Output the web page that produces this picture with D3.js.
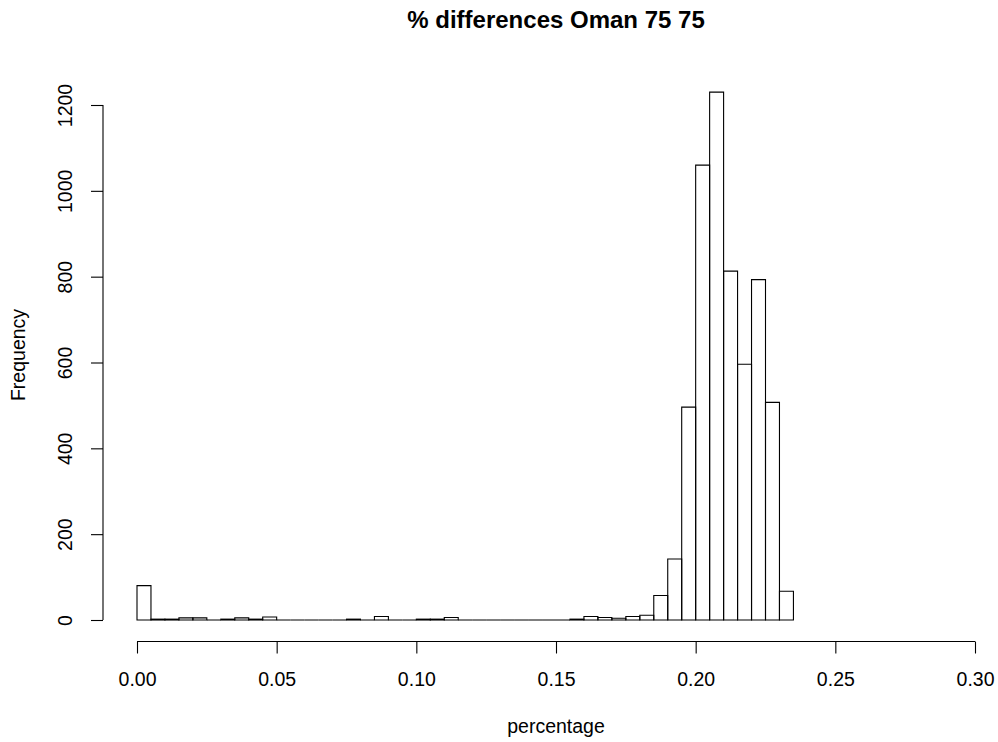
<!DOCTYPE html>
<html><head><meta charset="utf-8">
<script src="https://cdn.jsdelivr.net/npm/d3@7"></script>
<style>body{margin:0;background:#fff}svg{display:block}text{font-family:"Liberation Sans",Arial,Helvetica,sans-serif;fill:#000}</style>
</head><body>
<script>
const binWidth = 0.005;
const counts = [80,2,2,5,5,0,2,5,2,7,0,0,0,0,0,2,0,8,0,0,2,2,6,0,0,0,0,0,0,0,0,2,8,6,4,8,11,57,142,496,1060,1230,813,596,793,507,67];
const xTicks = [0,0.05,0.10,0.15,0.20,0.25,0.30];
const yTicks = [0,200,400,600,800,1000,1200];
const title = "% differences Oman 75 75";
const xLabel = "percentage", yLabel = "Frequency";

const W = 998, H = 742;
const svg = d3.select("body").append("svg").attr("width", W).attr("height", H);
const x = d3.scaleLinear().domain([0, 0.3]).range([137, 975]);
const y = d3.scaleLinear().domain([0, 1200]).range([620, 105]);

const bins = counts.map((c, i) => ({x0: i * binWidth, x1: (i + 1) * binWidth, c}));
svg.append("g").selectAll("path").data(bins).join("path")
  .attr("d", d => `M${x(d.x0)},${y(0)}V${y(d.c)}H${x(d.x1)}V${y(0)}Z`)
  .attr("fill", "none").attr("stroke", "#000").attr("stroke-width", 1.1);

const xa = svg.append("g").attr("transform", "translate(0,641.5)")
  .call(d3.axisBottom(x).tickValues(xTicks).tickFormat(d3.format(".2f")).tickSize(12));
const ya = svg.append("g").attr("transform", "translate(103,0)")
  .call(d3.axisLeft(y).tickValues(yTicks).tickFormat(d3.format("d")).tickSize(12));
[xa, ya].forEach(a => {
  a.select(".domain").attr("stroke", "#000").attr("stroke-width", 1.1);
  a.selectAll(".tick line").attr("stroke", "#000").attr("stroke-width", 1.1);
  a.selectAll("text").style("font-size", "19.5px").style("font-family", '"Liberation Sans",Arial,sans-serif');
});
xa.select(".domain").attr("d", `M${x(0)},0H${x(0.3)}`);
ya.select(".domain").attr("d", `M0,${y(0)}V${y(1200)}`);
xa.selectAll(".tick text").attr("y", 44).attr("dy", null);
ya.selectAll(".tick text")
  .attr("transform", "translate(-31,0) rotate(-90)")
  .attr("x", 0).attr("dy", null).attr("text-anchor", "middle");

svg.append("text").attr("x", 556).attr("y", 28).attr("text-anchor", "middle")
  .style("font-size", "24px").style("font-weight", "bold").text(title);
svg.append("text").attr("x", 556).attr("y", 733).attr("text-anchor", "middle")
  .style("font-size", "19.5px").text(xLabel);
svg.append("text").attr("transform", "translate(25,355) rotate(-90)").attr("text-anchor", "middle")
  .style("font-size", "19.5px").text(yLabel);
</script>
</body></html>
